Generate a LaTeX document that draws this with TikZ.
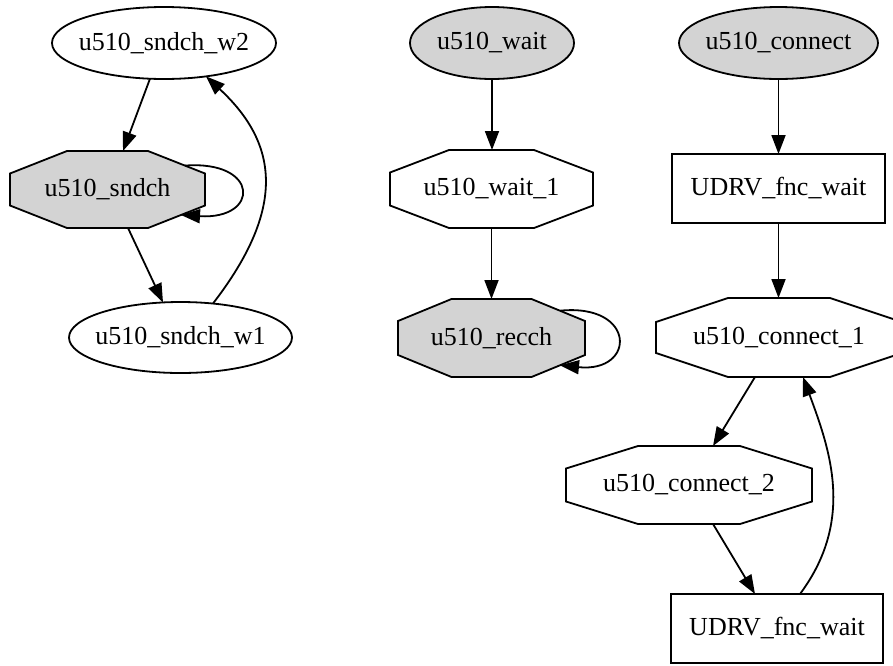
\documentclass[tikz,border=0pt]{standalone}
\usepackage{fontspec}
\setmainfont{Liberation Serif}
\usetikzlibrary{shapes.geometric,arrows.meta,calc,backgrounds}
\definecolor{gr}{HTML}{D3D3D3}
\newcommand\mylbl[1]{\makebox[0pt]{#1}}
\newcommand\drawoct[6]{%
  \begin{scope}[on background layer]
  \draw[line width=1.8pt, fill=#6] ($(#1)+(-#2,-#5)$) -- ($(#1)+(-#4,-#3)$) -- ($(#1)+(#4,-#3)$) -- ($(#1)+(#2,-#5)$) -- ($(#1)+(#2,#5)$) -- ($(#1)+(#4,#3)$) -- ($(#1)+(-#4,#3)$) -- ($(#1)+(-#2,#5)$) -- cycle;
  \end{scope}}
\tikzset{
  every node/.style={font=\fontsize{26}{30}\selectfont, inner sep=0pt, outer sep=0pt},
  ell/.style={ellipse, draw, line width=1.8pt},
  oc/.style={rectangle},
  box/.style={rectangle, draw, line width=1.8pt},
  arr/.style={line width=1.8pt, -{Triangle[length=19pt,width=14pt]}}
}
\begin{document}
\begin{tikzpicture}[x=1pt,y=-1pt]
\useasboundingbox (0,0) rectangle (893,665);
% left column
\node[ell, minimum width=224pt, minimum height=72pt] (w2) at (164,43) {\mylbl{u510\_sndch\_w2}};
\node[oc, minimum width=195pt, minimum height=77pt] (sndch) at (107.5,189.5) {\mylbl{u510\_sndch}};
\node[ell, minimum width=223pt, minimum height=71pt] (w1) at (180.5,337.5) {\mylbl{u510\_sndch\_w1}};
% middle column
\node[ell, fill=gr, minimum width=164pt, minimum height=72pt] (wait) at (492,43) {\mylbl{u510\_wait}};
\node[oc, minimum width=203pt, minimum height=78pt] (wait1) at (491.5,189) {\mylbl{u510\_wait\_1}};
\node[oc, minimum width=187pt, minimum height=78pt] (recch) at (491.5,338) {\mylbl{u510\_recch}};
% right column
\node[ell, fill=gr, minimum width=199pt, minimum height=72pt] (conn) at (778.5,43) {\mylbl{u510\_connect}};
\node[box, minimum width=213pt, minimum height=69pt] (udrv1) at (778.5,188.5) {\mylbl{UDRV\_fnc\_wait}};
\node[oc, minimum width=246pt, minimum height=79pt] (conn1) at (779,337.5) {\mylbl{u510\_connect\_1}};
\node[oc, minimum width=246pt, minimum height=78pt] (conn2) at (689,485) {\mylbl{u510\_connect\_2}};
\node[box, minimum width=212pt, minimum height=69pt] (udrv2) at (777,628.5) {\mylbl{UDRV\_fnc\_wait}};
% octagon outlines
\drawoct{sndch}{97.5}{38.5}{40.5}{16}{gr}
\drawoct{wait1}{101.5}{39}{42.5}{16.5}{white}
\drawoct{recch}{93.5}{39}{40}{17}{gr}
\drawoct{conn1}{123}{39.5}{51}{15.5}{white}
\drawoct{conn2}{123}{39}{51}{16.5}{white}
% edges left
\draw[arr] ($(w2)+(-14,35.7)$) -- ($(sndch)+(15.5,-38.5)$);
\draw[arr] ($(sndch)+(20.5,38.5)$) -- ($(w1)+(-17.5,-35)$);
\draw[arr] ($(w1)+(32.5,-34)$) .. controls ($(w1)+(104.5,-127.5)$) and ($(w2)+(116,102)$) .. ($(w2)+(42,33.4)$);
\draw[arr] ($(sndch)+(77.5,-23.9)$) .. controls ($(sndch)+(152.5,-29.5)$) and ($(sndch)+(152.5,30.5)$) .. ($(sndch)+(73.5,25.5)$);
% edges middle
\draw[arr] (wait.south) -- (wait.south |- wait1.north);
\draw[arr] (wait1.south) -- (wait1.south |- recch.north);
\draw[arr] ($(recch)+(68.5,-27.3)$) .. controls ($(recch)+(145,-35)$) and ($(recch)+(145,35)$) .. ($(recch)+(68.5,27.3)$);
% edges right
\draw[arr] (conn.south) -- (conn.south |- udrv1.north);
\draw[arr] (udrv1.south) -- (udrv1.south |- conn1.north);
\draw[arr] ($(conn1)+(-24,39.5)$) -- ($(conn2)+(24,-39)$);
\draw[arr] ($(conn2)+(24,39)$) -- ($(udrv2)+(-22,-34.5)$);
\draw[arr] ($(udrv2)+(23,-34.5)$) .. controls ($(udrv2)+(78,-108.5)$) and ($(conn1)+(51,112.5)$) .. ($(conn1)+(24,39.5)$);
\end{tikzpicture}
\end{document}
